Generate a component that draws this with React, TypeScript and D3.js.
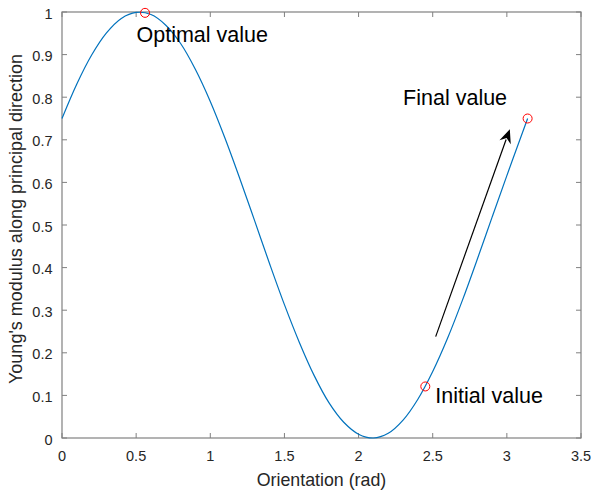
import React, { useEffect, useRef } from "react";
import * as d3 from "d3";

// values
const orientation = [
  0, 0.1, 0.2, 0.3, 0.4, 0.5, 0.6, 0.7, 0.8, 0.9, 1.0, 1.1, 1.2, 1.3, 1.4, 1.5,
  1.6, 1.7, 1.8, 1.9, 2.0, 2.1, 2.2, 2.3, 2.4, 2.5, 2.6, 2.7, 2.8, 2.9, 3.0, 3.1,
  3.14,
];
const modulus = [
  0.75, 0.831, 0.899, 0.951, 0.985, 0.999, 0.994, 0.969, 0.926, 0.865, 0.79,
  0.703, 0.608, 0.509, 0.409, 0.313, 0.225, 0.147, 0.083, 0.037, 0.009, 0.0,
  0.011, 0.042, 0.091, 0.156, 0.234, 0.323, 0.419, 0.518, 0.616, 0.712, 0.75,
];

const markers = [
  { x: 0.56, y: 0.998, label: "Optimal value" },
  { x: 2.45, y: 0.121, label: "Initial value" },
  { x: 3.14, y: 0.75, label: "Final value" },
];

const arrowFrom = [2.52, 0.238];
const arrowTo = [3.02, 0.725];

const xTicks = [0, 0.5, 1, 1.5, 2, 2.5, 3, 3.5];
const yTicks = [0, 0.1, 0.2, 0.3, 0.4, 0.5, 0.6, 0.7, 0.8, 0.9, 1];

const App = () => {
  const svgRef = useRef(null);

  useEffect(() => {
    const width = 594;
    const height = 490;
    const margin = { top: 12, right: 13, bottom: 52, left: 62 };
    const font = "'Liberation Sans', Arial, sans-serif";

    const svg = d3.select(svgRef.current);
    svg.selectAll("*").remove();
    svg.attr("width", width).attr("height", height);

    const x = d3.scaleLinear().domain([0, 3.5]).range([margin.left, width - margin.right]);
    const y = d3.scaleLinear().domain([0, 1]).range([height - margin.bottom, margin.top]);

    const axisColor = "#808080";
    const textColor = "#262626";

    // box
    svg
      .append("rect")
      .attr("x", x(0))
      .attr("y", y(1))
      .attr("width", x(3.5) - x(0))
      .attr("height", y(0) - y(1))
      .attr("fill", "white")
      .attr("stroke", axisColor)
      .attr("stroke-width", 1.2);

    const tickLen = 5;
    // x ticks bottom and top
    xTicks.forEach((t) => {
      svg.append("line").attr("x1", x(t)).attr("x2", x(t)).attr("y1", y(0)).attr("y2", y(0) - tickLen).attr("stroke", axisColor);
      svg.append("line").attr("x1", x(t)).attr("x2", x(t)).attr("y1", y(1)).attr("y2", y(1) + tickLen).attr("stroke", axisColor);
      svg
        .append("text")
        .attr("x", x(t))
        .attr("y", y(0) + 23)
        .attr("text-anchor", "middle")
        .attr("font-family", font)
        .attr("font-size", 14.5)
        .attr("fill", textColor)
        .text(String(t));
    });
    // y ticks left and right
    yTicks.forEach((t) => {
      svg.append("line").attr("x1", x(0)).attr("x2", x(0) + tickLen).attr("y1", y(t)).attr("y2", y(t)).attr("stroke", axisColor);
      svg.append("line").attr("x1", x(3.5)).attr("x2", x(3.5) - tickLen).attr("y1", y(t)).attr("y2", y(t)).attr("stroke", axisColor);
      svg
        .append("text")
        .attr("x", x(0) - 9.5)
        .attr("y", y(t) + 6.5)
        .attr("text-anchor", "end")
        .attr("font-family", font)
        .attr("font-size", 14.5)
        .attr("fill", textColor)
        .text(String(t));
    });

    // axis labels
    svg
      .append("text")
      .attr("x", (x(0) + x(3.5)) / 2)
      .attr("y", 486)
      .attr("text-anchor", "middle")
      .attr("font-family", font)
      .attr("font-size", 17.8)
      .attr("fill", textColor)
      .text("Orientation (rad)");
    svg
      .append("text")
      .attr("transform", `translate(22,219) rotate(-90)`)
      .attr("text-anchor", "middle")
      .attr("font-family", font)
      .attr("font-size", 18)
      .attr("fill", textColor)
      .text("Young's modulus along principal direction");

    // curve
    const pts = orientation.map((o, i) => [o, modulus[i]]);
    const line = d3
      .line()
      .x((d) => x(d[0]))
      .y((d) => y(d[1]))
      .curve(d3.curveCatmullRom);
    svg
      .append("path")
      .datum(pts)
      .attr("d", line)
      .attr("fill", "none")
      .attr("stroke", "#0072BD")
      .attr("stroke-width", 1.2);

    // markers
    svg
      .selectAll(".mk")
      .data(markers)
      .enter()
      .append("circle")
      .attr("cx", (d) => x(d.x))
      .attr("cy", (d) => y(d.y))
      .attr("r", 4.5)
      .attr("fill", "none")
      .attr("stroke", "#ff0000")
      .attr("stroke-width", 1);

    // annotations
    const labelPos = [
      { dx: -8.5, dy: 29 },
      { dx: 10, dy: 16.5 },
      { dx: -124.5, dy: -13.5 },
    ];
    markers.forEach((m, i) => {
      svg
        .append("text")
        .attr("x", x(m.x) + labelPos[i].dx)
        .attr("y", y(m.y) + labelPos[i].dy)
        .attr("font-family", font)
        .attr("font-size", 21.5)
        .attr("fill", "#000")
        .text(m.label);
    });

    // arrow
    const x1 = x(arrowFrom[0]);
    const y1 = y(arrowFrom[1]);
    const x2 = x(arrowTo[0]);
    const y2 = y(arrowTo[1]);
    const ang = Math.atan2(y2 - y1, x2 - x1);
    const hl = 14;
    const hw = 6;
    const bx = x2 - hl * Math.cos(ang);
    const by = y2 - hl * Math.sin(ang);
    svg
      .append("line")
      .attr("x1", x1)
      .attr("y1", y1)
      .attr("x2", bx + 3 * Math.cos(ang))
      .attr("y2", by + 3 * Math.sin(ang))
      .attr("stroke", "#000")
      .attr("stroke-width", 1.2);
    const nx = -Math.sin(ang);
    const ny = Math.cos(ang);
    const indent = 4.5;
    svg
      .append("path")
      .attr(
        "d",
        `M${x2},${y2} L${bx + hw * nx},${by + hw * ny} L${bx + indent * Math.cos(ang)},${by + indent * Math.sin(ang)} L${bx - hw * nx},${by - hw * ny} Z`
      )
      .attr("fill", "#000");
  }, []);

  return (
    <svg
      ref={svgRef}
      style={{ position: "absolute", left: 0, top: 0, background: "white" }}
    ></svg>
  );
};

export default App;
